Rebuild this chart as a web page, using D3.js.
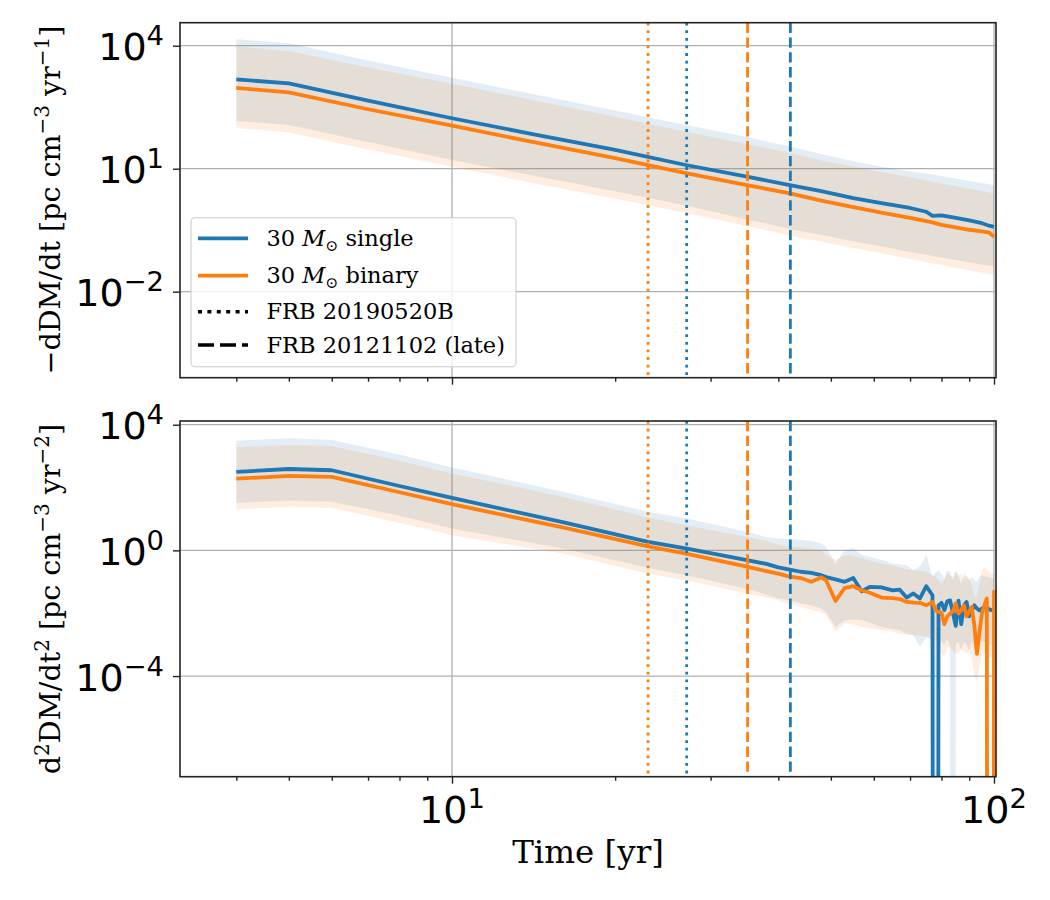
<!DOCTYPE html>
<html><head><meta charset="utf-8">
<script src="https://cdn.jsdelivr.net/npm/d3@7"></script>
<style>body{margin:0;background:#fff}</style>
</head><body><svg id="c" width="1050" height="900"></svg>
<script>
// ---------- data ----------
const tTop = [4, 5, 7, 10, 14, 20, 27, 35, 42, 48, 55, 62, 70, 75, 77, 80, 85, 90, 95, 98, 100];
const rateSingle   = [1510, 1200, 457, 170, 70.8, 28.8, 12.3, 6.38, 3.98, 2.82, 1.91, 1.45, 1.10, 0.891, 0.708, 0.724, 0.631, 0.550, 0.468, 0.407, 0.380];
const rateBinary   = [933, 724, 282, 112, 45.7, 18.2, 7.76, 3.98, 2.51, 1.66, 1.15, 0.851, 0.631, 0.525, 0.490, 0.427, 0.372, 0.324, 0.295, 0.275, 0.219];
const rateSingleHi = [14450, 11480, 4365, 1660, 676, 263, 117, 58.9, 34.7, 22.9, 15.1, 11.2, 8.51, 7.59, 7.24, 6.61, 5.75, 5.01, 4.47, 4.17, 3.89];
const rateSingleLo = [145, 117, 44.7, 16.2, 6.92, 2.82, 1.26, 0.575, 0.339, 0.240, 0.170, 0.126, 0.0933, 0.0794, 0.0741, 0.0676, 0.0589, 0.0513, 0.0457, 0.0427, 0.0417];
const rateBinaryHi = [9550, 7410, 2950, 1175, 479, 186, 79.4, 39.8, 24.0, 15.8, 11.2, 8.32, 6.17, 5.13, 4.79, 4.27, 3.72, 3.24, 2.82, 2.63, 2.51];
const rateBinaryLo = [97.7, 75.9, 29.5, 11.2, 4.57, 1.86, 0.832, 0.398, 0.234, 0.166, 0.117, 0.0871, 0.0631, 0.0525, 0.0490, 0.0447, 0.0380, 0.0331, 0.0295, 0.0269, 0.0257];

const tBot = [4, 5, 6, 8, 10, 16, 23, 27, 35, 38, 40, 42, 44, 46, 48, 49, 51, 53, 55, 57, 59, 62, 65, 67, 69, 71, 73, 75, 77, 78, 79, 80, 81, 82, 83, 84, 85, 86, 87, 88, 89, 90, 91, 92, 93, 94, 95, 96, 97, 98, 99, 100];
// 0 = non-positive value (clipped to the bottom of the log axis)
const accSingle = [316, 389, 355, 112, 46.8, 7.94, 1.86, 1.15, 0.490, 0.372, 0.288, 0.245, 0.209, 0.191, 0.162, 0.141, 0.120, 0.100, 0.132, 0.050, 0.0692, 0.0661, 0.0537, 0.0562, 0.0316, 0.0427, 0.0295, 0.0724, 0.0372, 0, 0.0178, 0.0214, 0.0126, 0.0240, 0.0257, 0.0100, 0.00398, 0.0251, 0.00447, 0.0178, 0.0229, 0.00794, 0.0126, 0.0178, 0.0141, 0.0123, 0.0141, 0.0158, 0.0148, 0.0132, 0.0126, 0.0123];
const accBinary = [191, 234, 219, 70.8, 29.5, 5.37, 1.35, 0.794, 0.302, 0.219, 0.182, 0.145, 0.132, 0.100, 0.138, 0.112, 0.0245, 0.0631, 0.0724, 0.0537, 0.0447, 0.0316, 0.0302, 0.0282, 0.0229, 0.0219, 0.0214, 0.0178, 0.0229, 0.0123, 0.0112, 0.0102, 0.00447, 0.00794, 0.00977, 0.0117, 0.0204, 0.00977, 0.0126, 0.0178, 0.00794, 0.0112, 0.0158, 0.00398, 0.000513, 0.00251, 0.00977, 0.0178, 0.0295, 0, 0, 0.0537];
const accSingleHi = [3090, 3720, 3240, 1120, 437, 74.1, 17.0, 10.5, 3.89, 2.63, 2.40, 2.29, 2.14, 2.00, 1.66, 1.29, 0.380, 1.02, 1.15, 0.708, 0.617, 0.490, 0.380, 0.355, 0.339, 0.234, 0.302, 0.708, 0.145, 0.200, 0.234, 0.178, 0.126, 0.234, 0.200, 0.112, 0.209, 0.158, 0.0871, 0.182, 0.141, 0.112, 0.141, 0.112, 0.100, 0.141, 0.162, 0.151, 0.145, 0.138, 0.132, 0.126];
const accSingleLo = [32.4, 38.9, 35.5, 12.6, 5.01, 1.15, 0.282, 0.162, 0.0603, 0.0398, 0.0295, 0.0257, 0.0204, 0.0178, 0.0141, 0.0110, 0.00363, 0.00603, 0.00631, 0.00603, 0.00501, 0.00363, 0.00316, 0.00288, 0.00224, 0.00200, 0.000851, 0.00174, 0.00126, 0, 0.00126, 0.00126, 0.00100, 0.00158, 0.000794, 0, 0.00100, 0.00126, 0.000631, 0.00126, 0.00100, 0.000631, 0.00126, 0.000794, 0.000501, 0.00100, 0.00126, 0.00126, 0.00100, 0.00100, 0.00100, 0.000891];
const accBinaryHi = [1910, 2240, 2090, 708, 282, 51.3, 11.2, 6.31, 2.69, 2.00, 1.51, 1.32, 1.26, 1.15, 1.00, 0.708, 0.490, 0.708, 0.676, 0.550, 0.479, 0.380, 0.331, 0.282, 0.257, 0.234, 0.224, 0.209, 0.158, 0.145, 0.112, 0.0871, 0.126, 0.182, 0.158, 0.145, 0.234, 0.158, 0.178, 0.112, 0.158, 0.126, 0.0794, 0.0331, 0.0316, 0.0794, 0.234, 0.282, 0.251, 0.200, 0.182, 0.182];
const accBinaryLo = [20.0, 24.5, 22.4, 7.59, 3.02, 0.794, 0.182, 0.112, 0.0427, 0.0316, 0.0257, 0.0191, 0.0158, 0.0126, 0.0105, 0.00891, 0.00251, 0.00468, 0.00447, 0.00363, 0.00331, 0.00288, 0.00251, 0.00224, 0.00209, 0.00200, 0.00191, 0.00174, 0.00158, 0.00138, 0.000794, 0.000513, 0.000398, 0.000851, 0.000794, 0.000631, 0.000513, 0.000513, 0.000741, 0.000631, 0.000501, 0.000741, 0.000316, 0.000100, 0.0000646, 0.000200, 0.000513, 0.000501, 0.000447, 0.000407, 0.000407, 0.000407];

// FRB ages [yr]
const frbNames = ["FRB 20190520B", "FRB 20121102 (late)"];
const frbSingle = [27.1, 42.1];
const frbBinary = [23.0, 35.1];

const seriesNames = ["30 M\u2299 single", "30 M\u2299 binary"];
const xTickVals = [10, 100];
const xTickExp = ["1", "2"];
const yTickValsTop = [1e-2, 1e1, 1e4];
const yTickExpTop = ["\u22122", "1", "4"];
const yTickValsBot = [1e-4, 1e0, 1e4];
const yTickExpBot = ["\u22124", "0", "4"];

// ---------- drawing ----------
const svg = d3.select("#c");
const BLUE = "#1f77b4", ORANGE = "#ff7f0e";
const X0 = 180, X1 = 996;
const x = d3.scaleLog().domain([3.149, 100.85]).range([X0, X1]);
const SANS = "DejaVu Sans", SERIF = "DejaVu Serif";
const TICKFS = 38;
const LW = 3.8;

const panels = [
  { top: 22.7, bottom: 377.7, dom: [Math.pow(10, -4.098), Math.pow(10, 4.561)],
    t: tTop, s: rateSingle, b: rateBinary, sHi: rateSingleHi, sLo: rateSingleLo, bHi: rateBinaryHi, bLo: rateBinaryLo,
    yt: yTickValsTop, ye: yTickExpTop, xlabels: false },
  { top: 421, bottom: 776.7, dom: [Math.pow(10, -7.203), Math.pow(10, 4.118)],
    t: tBot, s: accSingle, b: accBinary, sHi: accSingleHi, sLo: accSingleLo, bHi: accBinaryHi, bLo: accBinaryLo,
    yt: yTickValsBot, ye: yTickExpBot, xlabels: true }
];

const pos = v => (v > 0 ? v : 1e-100);
const defs = svg.append("defs");

panels.forEach((p, pi) => {
  const y = d3.scaleLog().domain(p.dom).range([p.bottom, p.top]);
  const g = svg.append("g");
  const cid = "clip" + pi;
  defs.append("clipPath").attr("id", cid).append("rect")
    .attr("x", X0).attr("y", p.top).attr("width", X1 - X0).attr("height", p.bottom - p.top);
  const pg = g.append("g").attr("clip-path", `url(#${cid})`);

  // grid
  pg.selectAll(".gy").data(p.yt).join("line")
    .attr("x1", X0).attr("x2", X1).attr("y1", d => y(d)).attr("y2", d => y(d))
    .attr("stroke", "#b0b0b0").attr("stroke-width", 1.3);
  pg.selectAll(".gx").data(xTickVals).join("line")
    .attr("y1", p.top).attr("y2", p.bottom).attr("x1", d => x(d)).attr("x2", d => x(d))
    .attr("stroke", "#b0b0b0").attr("stroke-width", 1.3);

  const idx = d3.range(p.t.length);
  const band = (lo, hi) => d3.area().x(i => x(p.t[i])).y0(i => y(pos(lo[i]))).y1(i => y(pos(hi[i])))(idx);
  const line = vals => d3.line().x(i => x(p.t[i])).y(i => y(pos(vals[i])))(idx);

  pg.append("path").attr("d", band(p.sLo, p.sHi)).attr("fill", BLUE).attr("fill-opacity", 0.13);
  pg.append("path").attr("d", band(p.bLo, p.bHi)).attr("fill", ORANGE).attr("fill-opacity", 0.13);
  pg.append("path").attr("d", line(p.s)).attr("fill", "none").attr("stroke", BLUE).attr("stroke-width", LW).attr("stroke-linejoin", "round");
  pg.append("path").attr("d", line(p.b)).attr("fill", "none").attr("stroke", ORANGE).attr("stroke-width", LW).attr("stroke-linejoin", "round");

  // FRB vertical lines
  const dashes = ["2.8,4.8", "10.3,4.5"];
  frbNames.forEach((n, k) => {
    [[frbBinary[k], ORANGE], [frbSingle[k], BLUE]].forEach(([v, c]) => {
      pg.append("line").attr("x1", x(v)).attr("x2", x(v)).attr("y1", p.top).attr("y2", p.bottom)
        .attr("stroke", c).attr("stroke-width", 2.8).attr("stroke-dasharray", dashes[k]);
    });
  });

  // axes (ticks)
  const ax = g.append("g").attr("transform", `translate(0,${p.bottom})`)
    .call(d3.axisBottom(x).tickValues(xTickVals).tickSize(7).tickFormat(""));
  const minor = [4, 5, 6, 7, 8, 9, 20, 30, 40, 50, 60, 70, 80, 90];
  const axm = g.append("g").attr("transform", `translate(0,${p.bottom})`)
    .call(d3.axisBottom(x).tickValues(minor).tickSize(4).tickFormat(""));
  const ay = g.append("g").attr("transform", `translate(${X0},0)`)
    .call(d3.axisLeft(y).tickValues(p.yt).tickSize(7).tickFormat(""));
  [ax, axm, ay].forEach(a => {
    a.select(".domain").remove();
    a.selectAll(".tick text").remove();
    a.selectAll(".tick line").attr("stroke", "#222").attr("stroke-width", 1.4);
  });

  // spines
  g.append("rect").attr("x", X0).attr("y", p.top).attr("width", X1 - X0).attr("height", p.bottom - p.top)
    .attr("fill", "none").attr("stroke", "#222").attr("stroke-width", 1.6);

  // y tick labels
  p.yt.forEach((v, i) => {
    const tx = g.append("text").attr("x", 164).attr("y", y(v) + 14.5)
      .attr("text-anchor", "end").attr("font-family", SANS).attr("font-size", TICKFS).attr("fill", "#000");
    tx.append("tspan").text("10");
    tx.append("tspan").attr("dy", -15).attr("font-size", TICKFS * 0.72).text(p.ye[i]);
  });
  if (p.xlabels) {
    xTickVals.forEach((v, i) => {
      const tx = g.append("text").attr("x", x(v)).attr("y", p.bottom + 46.5)
        .attr("text-anchor", "middle").attr("font-family", SANS).attr("font-size", TICKFS).attr("fill", "#000");
      tx.append("tspan").text("10");
      tx.append("tspan").attr("dy", -15).attr("font-size", TICKFS * 0.72).text(xTickExp[i]);
    });
  }
});

// axis labels
svg.append("text").attr("x", (X0 + X1) / 2).attr("y", 863).attr("text-anchor", "middle")
  .attr("font-family", SERIF).attr("font-size", 32.5).text("Time [yr]");

function ylabel(cy, parts) {
  const t = svg.append("text").attr("transform", `translate(60,${cy}) rotate(-90)`)
    .attr("text-anchor", "middle").attr("font-family", SERIF).attr("font-size", 28.5);
  let pend = 0;
  parts.forEach(([s, sup]) => {
    const ts = t.append("tspan").text(s);
    if (sup) { ts.attr("dy", -11).attr("font-size", 20); pend = 11; }
    else { if (pend) ts.attr("dy", pend); pend = 0; }
  });
}
ylabel(200, [["\u2212dDM/dt [pc cm"], ["\u22123", 1], [" yr"], ["\u22121", 1], ["]"]]);
ylabel(599, [["d"], ["2", 1], ["DM/dt"], ["2", 1], [" [pc cm"], ["\u22123", 1], [" yr"], ["\u22122", 1], ["]"]]);

// legend
const lg = svg.append("g");
lg.append("rect").attr("x", 191).attr("y", 217.7).attr("width", 325).attr("height", 149).attr("rx", 4)
  .attr("fill", "#fff").attr("fill-opacity", 0.8).attr("stroke", "#cccccc").attr("stroke-width", 1.1);
const rowsY = [238.3, 275.7, 311.7, 345];
const handles = [
  { c: BLUE, d: null }, { c: ORANGE, d: null }, { c: "#000", d: "4,5.4" }, { c: "#000", d: "16,6" }
];
const labels = [seriesNames[0], seriesNames[1], frbNames[0], frbNames[1]];
rowsY.forEach((ry, i) => {
  const h = handles[i];
  const ln = lg.append("line").attr("x1", 198).attr("x2", 248).attr("y1", ry).attr("y2", ry)
    .attr("stroke", h.c).attr("stroke-width", h.d ? 3.6 : LW);
  if (h.d) ln.attr("stroke-dasharray", h.d);
  const tx = lg.append("text").attr("x", 266.5).attr("y", ry + 7.5).attr("font-family", SERIF).attr("font-size", 22.5);
  const lab = labels[i];
  if (lab.includes("M\u2299")) {
    const [a, b] = lab.split("M\u2299");
    tx.append("tspan").text(a);
    tx.append("tspan").attr("font-style", "italic").text("M");
    tx.append("tspan").attr("dy", 5).attr("font-size", 15.5).text("\u2299");
    tx.append("tspan").attr("dy", -5).text(b);
  } else tx.text(lab);
});
</script></body></html>
